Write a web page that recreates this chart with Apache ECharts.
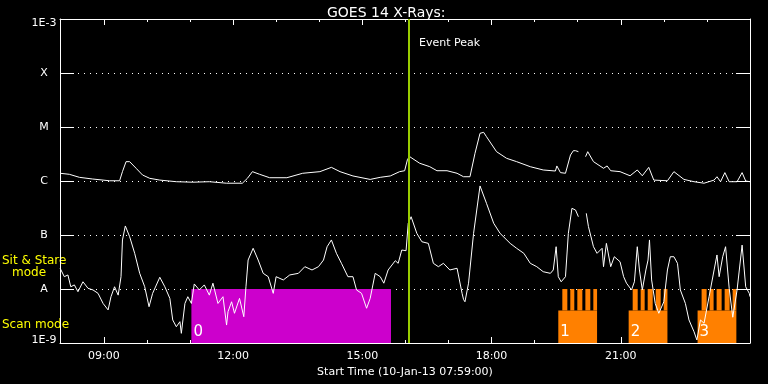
<!DOCTYPE html>
<html><head><meta charset="utf-8">
<script src="https://cdn.jsdelivr.net/npm/echarts@6/dist/echarts.min.js"></script>
<style>html,body{margin:0;padding:0;background:#000}#c{width:768px;height:384px}</style>
</head><body><div id="c"></div>
<script>
const titleText = 'GOES 14 X-Rays:';
const xAxisTitle = 'Start Time (10-Jan-13 07:59:00)';
const startTime = '07:59';
const endTime = '24:00';
const majorTickTimes = ['09:00','12:00','15:00','18:00','21:00'];
const minorTickTimes = ['08:00','09:00','10:00','11:00','12:00','13:00','14:00','15:00','16:00','17:00','18:00','19:00','20:00','21:00','22:00','23:00'];
const yTickLabels = ['1E-9','A','B','C','M','X','1E-3'];
const yMin = 1e-9, yMax = 1e-3;
const eventPeakTime = '16:05';
const eventPeakLabel = 'Event Peak';
const eventLabelFlux = 3.6e-4;

// GOES long channel (1-8 A), W/m^2
const longChannel = [
['07:59',1.39e-6],['08:12',1.33e-6],['08:26',1.17e-6],['08:44',1.09e-6],['09:08',1.01e-6],['09:22',1.01e-6],
['09:26',1.49e-6],['09:31',2.28e-6],['09:36',2.28e-6],['09:45',1.72e-6],['09:54',1.29e-6],['10:04',1.12e-6],
['10:18',1.04e-6],['10:41',9.7e-7],['11:04',9.5e-7],['11:27',9.7e-7],['11:51',9.1e-7],['12:13',9.1e-7],
['12:20',1.12e-6],['12:27',1.49e-6],['12:37',1.33e-6],['12:51',1.15e-6],['13:15',1.15e-6],['13:37',1.39e-6],
['14:01',1.49e-6],['14:17',1.79e-6],['14:29',1.49e-6],['14:47',1.24e-6],['15:11',1.07e-6],['15:25',1.17e-6],
['15:39',1.24e-6],['15:52',1.49e-6],['15:59',1.55e-6],['16:03',2.52e-6],['16:06',2.82e-6],['16:20',2.13e-6],
['16:34',1.84e-6],['16:44',1.55e-6],['16:58',1.55e-6],['17:12',1.39e-6],['17:21',1.20e-6],['17:30',1.20e-6],
['17:37',3.26e-6],['17:44',7.64e-6],['17:49',7.97e-6],['17:53',6.61e-6],['18:07',3.49e-6],['18:21',2.63e-6],
['18:35',2.28e-6],['18:54',1.84e-6],['19:12',1.60e-6],['19:29',1.53e-6],['19:31',1.90e-6],['19:36',1.43e-6],
['19:43',1.39e-6],['19:50',3.03e-6],['19:54',3.64e-6],['19:57',3.64e-6],['20:01',3.49e-6],['20:06',null],
['20:11',2.82e-6],['20:14',3.49e-6],['20:22',2.28e-6],['20:36',1.72e-6],['20:41',1.90e-6],['20:46',1.55e-6],
['20:59',1.49e-6],['21:13',1.25e-6],['21:23',1.60e-6],['21:30',1.25e-6],['21:39',1.79e-6],['21:46',1.04e-6],
['22:05',1.01e-6],['22:14',1.49e-6],['22:28',1.07e-6],['22:42',9.7e-7],['22:56',9.1e-7],['23:10',1.04e-6],
['23:14',1.20e-6],['23:19',9.7e-7],['23:25',1.43e-6],['23:31',9.7e-7],['23:42',9.7e-7],['23:49',1.43e-6],
['23:54',1.0e-6],['24:00',9.7e-7]
];

// GOES short channel (0.5-4 A), W/m^2
const shortChannel = [
['07:59',2.45e-8],['08:05',1.69e-8],['08:10',1.82e-8],['08:14',1.10e-8],['08:19',1.19e-8],['08:24',8.9e-9],
['08:31',1.36e-8],['08:38',1.03e-8],['08:45',9.6e-9],['08:52',8.3e-9],['08:59',5.4e-9],['09:06',4.1e-9],
['09:10',7.2e-9],['09:15',1.10e-8],['09:20',7.7e-9],['09:24',1.69e-8],['09:26',8.1e-8],['09:30',1.47e-7],
['09:36',9.3e-8],['09:43',4.58e-8],['09:50',1.95e-8],['09:57',1.10e-8],['10:03',4.7e-9],['10:08',8.3e-9],
['10:18',1.65e-8],['10:25',1.10e-8],['10:32',6.7e-9],['10:36',2.67e-9],['10:41',2.0e-9],['10:46',2.48e-9],
['10:48',1.51e-9],['10:53',5.4e-9],['10:57',7.2e-9],['11:02',5.4e-9],['11:06',1.24e-8],['11:13',9.6e-9],
['11:20',1.19e-8],['11:27',7.7e-9],['11:32',1.28e-8],['11:39',5.4e-9],['11:46',7.2e-9],['11:51',2.15e-9],
['11:53',3.8e-9],['11:58',5.8e-9],['12:02',3.55e-9],['12:09',6.7e-9],['12:15',3.07e-9],['12:18',1.10e-8],
['12:21',3.44e-8],['12:28',5.67e-8],['12:35',3.44e-8],['12:42',1.95e-8],['12:49',1.69e-8],['12:56',8.3e-9],
['13:00',1.69e-8],['13:10',1.47e-8],['13:19',1.82e-8],['13:31',1.95e-8],['13:40',2.59e-8],['13:50',2.25e-8],
['13:59',2.59e-8],['14:06',3.44e-8],['14:11',6.07e-8],['14:17',8.1e-8],['14:24',4.58e-8],['14:31',2.99e-8],
['14:40',1.69e-8],['14:47',1.69e-8],['14:52',9.6e-9],['14:59',8.3e-9],['15:06',4.4e-9],['15:11',6.7e-9],
['15:18',1.95e-8],['15:25',1.69e-8],['15:30',1.28e-8],['15:36',2.25e-8],['15:46',3.34e-8],['15:50',2.99e-8],
['15:55',5.27e-8],['16:01',5.12e-8],['16:04',1.65e-7],['16:08',2.18e-7],['16:16',1.07e-7],['16:23',7.5e-8],
['16:32',7.0e-8],['16:39',2.99e-8],['16:46',2.59e-8],['16:53',2.99e-8],['17:02',2.25e-8],['17:12',2.42e-8],
['17:19',8.3e-9],['17:21',6.4e-9],['17:23',5.8e-9],['17:28',1.28e-8],['17:35',1.07e-7],['17:44',8.1e-7],
['17:46',8.1e-7],['17:53',3.86e-7],['18:03',1.65e-7],['18:12',1.07e-7],['18:26',7.0e-8],['18:35',5.67e-8],
['18:45',4.58e-8],['18:54',2.99e-8],['19:03',2.59e-8],['19:12',2.09e-8],['19:22',1.95e-8],['19:26',2.25e-8],
['19:30',6.07e-8],['19:33',1.69e-8],['19:37',1.36e-8],['19:43',1.69e-8],['19:47',1.07e-7],['19:52',3.12e-7],
['19:57',2.9e-7],['20:01',2.18e-7],['20:06',null],['20:12',2.52e-7],['20:15',1.43e-7],['20:22',6.07e-8],
['20:27',4.58e-8],['20:34',5.67e-8],['20:36',2.59e-8],['20:40',7.0e-8],['20:46',2.59e-8],['20:51',3.96e-8],
['20:59',3.2e-8],['21:04',1.69e-8],['21:08',1.28e-8],['21:15',9.6e-9],['21:19',1.36e-8],['21:23',6.07e-8],
['21:26',2.25e-8],['21:30',9.6e-9],['21:35',2.25e-8],['21:38',3.44e-8],['21:40',8.1e-8],['21:43',1.47e-8],
['21:48',5.4e-9],['21:53',3.55e-9],['22:00',5.8e-9],['22:05',2.25e-8],['22:09',3.96e-8],['22:14',3.96e-8],
['22:19',2.99e-8],['22:23',9.6e-9],['22:30',5.4e-9],['22:35',2.67e-9],['22:42',1.62e-9],['22:46',1.14e-9],
['22:51',2.67e-9],['22:56',2.32e-9],['23:03',7.2e-9],['23:10',2.25e-8],['23:14',4.27e-8],['23:17',1.69e-8],
['23:22',3.96e-8],['23:26',6.07e-8],['23:31',1.03e-8],['23:36',3.0e-9],['23:42',9.6e-9],['23:49',6.5e-8],
['23:54',1.10e-8],['23:59',8.3e-9],['24:00',7.2e-9]
];

// Observing modes
const modeNames = ['0','1','2','3'];
const modeStart = ['11:02','19:33','21:11','22:47'];
const modeEnd = ['15:40','20:27','22:05','23:41'];
const modeKind = ['stare','scan','scan','scan'];
const dwellStartMin = [5.6,16.7,26.5,37.7,48.8];
const dwellEndMin = [12.6,22.3,33.5,44.6,54.4];
const stareTop = 1e-8, scanBase = 4e-9, scanTop = 1e-8;
const sideLabels = ['Sit & Stare', 'mode', 'Scan mode'];

const toMin = s => { const p = s.split(':').map(Number); return p[0]*60 + p[1]; };
const fmtTime = v => { const h = Math.floor(v/60), m = Math.round(v%60); return String(h).padStart(2,'0')+':'+String(m).padStart(2,'0'); };
const FONT = 'DejaVu Sans';
const majorTicks = majorTickTimes.map(toMin);
const minorTicks = minorTickTimes.map(toMin);

const toSeries = arr => arr.map(([t, f]) => [toMin(t), f === null ? '-' : f]);

function renderMode(params, api) {
  const s = api.value(0), e = api.value(1), idx = api.value(2);
  const kind = modeKind[idx];
  const children = [];
  const rect = (x0, x1, y0, y1, color) => {
    const p0 = api.coord([x0, y0]), p1 = api.coord([x1, y1]);
    children.push({type:'rect', shape:{x:p0[0], y:p1[1], width:p1[0]-p0[0], height:p0[1]-p1[1]}, style:{fill:color}});
  };
  if (kind === 'stare') {
    rect(s, e, yMin, stareTop, '#cc00cc');
  } else {
    rect(s, e, yMin, scanBase, '#ff8000');
    for (let k = 0; k < dwellStartMin.length; k++) {
      rect(s + dwellStartMin[k], Math.min(e, s + dwellEndMin[k]), scanBase, scanTop, '#ff8000');
    }
  }
  const base = api.coord([s, yMin]);
  children.push({type:'text', style:{text: modeNames[idx], x: base[0]+2, y: base[1]-3, fill:'#fff', font:'15px "'+FONT+'"', align:'left', verticalAlign:'bottom'}});
  return {type:'group', children};
}

const chart = echarts.init(document.getElementById('c'), null, {renderer:'canvas'});
const xBase = {type:'value', min: toMin(startTime), max: toMin(endTime), gridIndex:0, splitLine:{show:false}};
const white = {color:'#fff', width:1};
const yLabelStyle = {color:'#fff', fontSize:11, fontFamily:FONT};
chart.setOption({
  backgroundColor:'#000',
  animation:false,
  title:{text:titleText, left:322, top:1, textStyle:{color:'#fff', fontSize:14, fontWeight:'normal', fontFamily:FONT}},
  grid:{left:60, right:18, top:19, bottom:41, containLabel:false, outerBoundsMode:'none'},
  xAxis:[
    Object.assign({}, xBase, {position:'bottom', axisLine:{show:true, lineStyle:white},
      axisTick:{show:true, inside:true, length:6, customValues:majorTicks, lineStyle:white},
      axisLabel:{show:true, customValues:majorTicks, formatter:fmtTime, color:'#fff', fontSize:11, fontFamily:FONT, margin:8},
      name:xAxisTitle, nameLocation:'middle', nameGap:18, nameTextStyle:{color:'#fff', fontSize:11, fontFamily:FONT}}),
    Object.assign({}, xBase, {position:'bottom', axisLine:{show:false},
      axisTick:{show:true, inside:true, length:3, customValues:minorTicks, lineStyle:white}, axisLabel:{show:false, customValues:minorTicks}}),
    Object.assign({}, xBase, {position:'top', axisLine:{show:true, lineStyle:white},
      axisTick:{show:true, inside:true, length:6, customValues:majorTicks, lineStyle:white}, axisLabel:{show:false, customValues:majorTicks}}),
    Object.assign({}, xBase, {position:'top', axisLine:{show:false},
      axisTick:{show:true, inside:true, length:3, customValues:minorTicks, lineStyle:white}, axisLabel:{show:false, customValues:minorTicks}})
  ],
  yAxis:[
    {type:'log', logBase:10, min:yMin, max:yMax, position:'left', gridIndex:0,
      axisLine:{show:true, lineStyle:white}, axisTick:{show:true, inside:true, length:14, lineStyle:white},
      minorTick:{show:false},
      axisLabel:Object.assign({}, yLabelStyle, {align:'center', margin:16,
        formatter: v => {
          const i = Math.round(Math.log10(v)) + 9;
          const t = yTickLabels[i];
          if (i === yTickLabels.length - 1) return '{top|' + t + '}';
          if (i === 0) return '{bot|' + t + '}';
          return t;
        },
        rich:{top:Object.assign({}, yLabelStyle, {padding:[8,0,0,0]}), bot:Object.assign({}, yLabelStyle, {padding:[0,0,6,0]})}}),
      splitLine:{show:true, lineStyle:{color:'#fff', width:1, type:[1,5]}}},
    {type:'log', logBase:10, min:yMin, max:yMax, position:'right', gridIndex:0,
      axisLine:{show:true, lineStyle:white}, axisTick:{show:true, inside:true, length:14, lineStyle:white},
      axisLabel:{show:false}, splitLine:{show:false}}
  ],
  graphic:[
    {type:'text', left:2, top:255, style:{text:sideLabels[0], fill:'#ffff00', font:'12px "'+FONT+'"'}},
    {type:'text', left:12, top:267, style:{text:sideLabels[1], fill:'#ffff00', font:'12px "'+FONT+'"'}},
    {type:'text', left:2, top:319, style:{text:sideLabels[2], fill:'#ffff00', font:'12px "'+FONT+'"'}}
  ],
  series:[
    {type:'custom', xAxisIndex:0, yAxisIndex:0, z:1, renderItem:renderMode, silent:true,
      data: modeNames.map((n, i) => [toMin(modeStart[i]), toMin(modeEnd[i]), i])},
    {type:'line', name:'long', xAxisIndex:0, yAxisIndex:0, z:3, showSymbol:false, symbol:'none', connectNulls:false,
      lineStyle:{color:'#fff', width:1}, data: toSeries(longChannel)},
    {type:'line', name:'short', xAxisIndex:0, yAxisIndex:0, z:3, showSymbol:false, symbol:'none', connectNulls:false,
      lineStyle:{color:'#fff', width:1}, data: toSeries(shortChannel)},
    {type:'line', name:'event', xAxisIndex:0, yAxisIndex:0, z:5, data:[],
      markLine:{silent:true, symbol:['none','none'], label:{show:false},
        lineStyle:{color:'#99cc00', width:2, type:'solid'}, data:[{xAxis: toMin(eventPeakTime)}]},
      markPoint:{silent:true, symbol:'circle', symbolSize:0,
        label:{show:true, position:'right', distance:10, formatter:eventPeakLabel, color:'#fff', fontSize:11, fontFamily:FONT},
        data:[{coord:[toMin(eventPeakTime), eventLabelFlux]}]}}
  ]
});
</script></body></html>
